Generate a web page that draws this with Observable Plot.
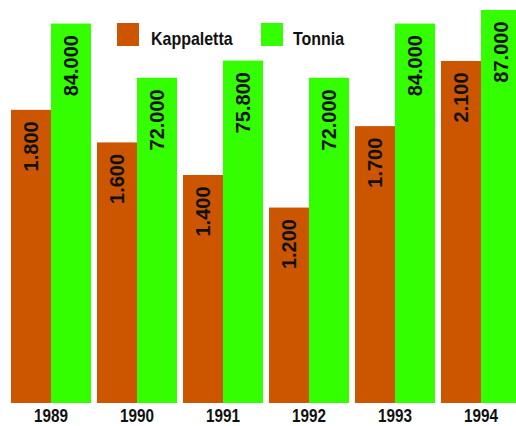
<!DOCTYPE html>
<html>
<head>
<meta charset="utf-8">
<script src="https://cdn.jsdelivr.net/npm/d3@7"></script>
<script src="https://cdn.jsdelivr.net/npm/@observablehq/plot@0.6"></script>
<style>
  html, body { margin: 0; padding: 0; background: #fff; overflow: hidden; }
  #wrap { position: relative; width: 516px; height: 426px; }
  .legend-item { position: absolute; top: 23px; display: flex; align-items: flex-start;
    font-family: "Liberation Sans", Arial, sans-serif; font-weight: bold; font-size: 19px; color: #111; white-space: nowrap; }
  .legend-item .sw { width: 22px; height: 23px; flex: none; }
  .legend-item .lb { display: inline-block; line-height: 23px; position: relative; top: 4px;
    transform: scaleX(0.84); transform-origin: left center; }
</style>
</head>
<body>
<div id="wrap"></div>
<script>
const years = ["1989", "1990", "1991", "1992", "1993", "1994"];
const series = ["Kappaletta", "Tonnia"];
const kappaletta = [1800, 1600, 1400, 1200, 1700, 2100];
const tonnia = [84000, 72000, 75800, 72000, 84000, 87000];
// each series has its own value axis; these are the axis maxima
const seriesMax = [2413, 87000];
const colors = ["#CC5500", "#33FF00"];

const maxOf = Object.fromEntries(series.map((s, i) => [s, seriesMax[i]]));
const data = years.flatMap((year, i) => [
  {year, series: series[0], value: kappaletta[i]},
  {year, series: series[1], value: tonnia[i]}
]);
const fmt = d3.formatLocale({decimal: ",", thousands: ".", grouping: [3], currency: ["", ""]}).format(",d");
const yv = d => d.value / maxOf[d.series];

const chart = Plot.plot({
  width: 516,
  height: 426,
  marginTop: 10,
  marginBottom: 23,
  marginLeft: 0,
  marginRight: 0,
  style: {fontFamily: "'Liberation Sans', Arial, sans-serif", fontSize: "18px", fontWeight: "bold", color: "#111", background: "#fff"},
  fx: {domain: years, range: [9, 521.4], paddingInner: 0.056, paddingOuter: 0, axis: "bottom", tickSize: 0, tickPadding: 6, label: null},
  x: {domain: series, padding: 0, axis: null},
  y: {domain: [0, 1], axis: null},
  color: {domain: series, range: colors},
  marks: [
    Plot.barY(data, {fx: "year", x: "series", y: yv, fill: "series"}),
    Plot.text(data, {
      fx: "year", x: "series", y: yv, text: d => fmt(d.value),
      rotate: -90, textAnchor: "end", lineAnchor: "middle", dy: 11,
      fontFamily: "'Liberation Sans', Arial, sans-serif", fontSize: 20, fontWeight: "bold", fill: "#111"
    })
  ]
});
// condensed look for the year labels
chart.querySelectorAll('g[aria-label="fx-axis tick label"] text').forEach(t => {
  t.setAttribute("textLength", 34);
  t.setAttribute("lengthAdjust", "spacingAndGlyphs");
});
const wrap = document.getElementById("wrap");
wrap.appendChild(chart);

const legendLeft = [117, 261];
const legendGap = [12, 10];
series.forEach((s, i) => {
  const item = document.createElement("div");
  item.className = "legend-item";
  item.style.left = legendLeft[i] + "px";
  item.innerHTML = `<span class="sw" style="background:${colors[i]}"></span><span class="lb" style="margin-left:${legendGap[i]}px">${s}</span>`;
  wrap.appendChild(item);
});
</script>
</body>
</html>
